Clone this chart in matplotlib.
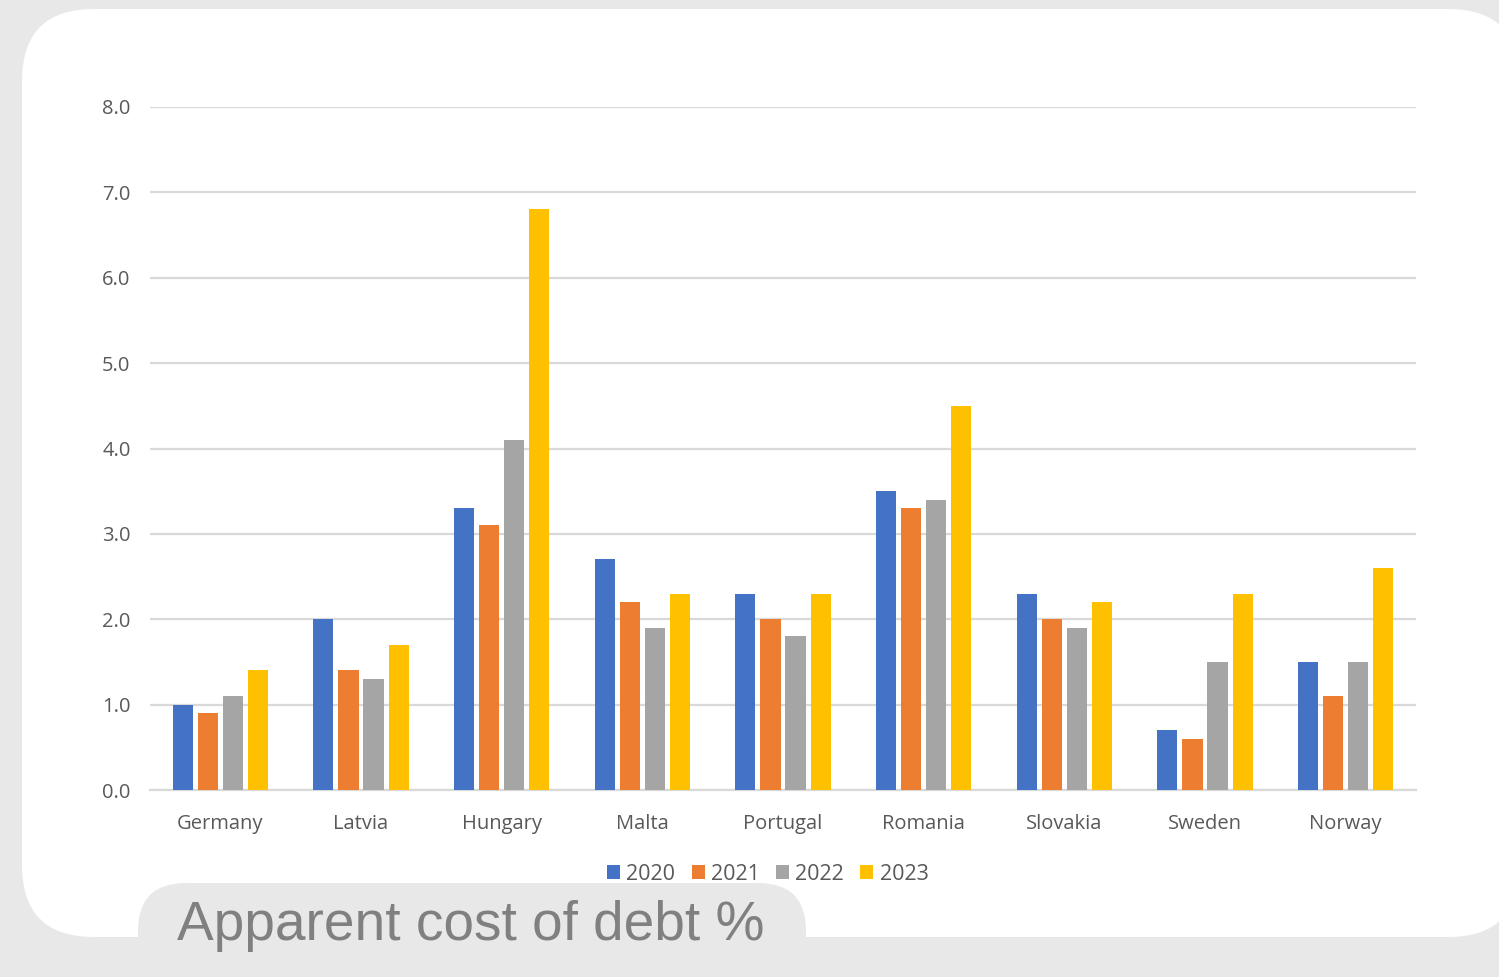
import numpy as np
import matplotlib
matplotlib.use('Agg')
import matplotlib.pyplot as plt
from matplotlib.patches import FancyBboxPatch

countries = ["Germany", "Latvia", "Hungary", "Malta", "Portugal",
             "Romania", "Slovakia", "Sweden", "Norway"]
years = ["2020", "2021", "2022", "2023"]
v2020 = [1.0, 2.0, 3.3, 2.7, 2.3, 3.5, 2.3, 0.7, 1.5]
v2021 = [0.9, 1.4, 3.1, 2.2, 2.0, 3.3, 2.0, 0.6, 1.1]
v2022 = [1.1, 1.3, 4.1, 1.9, 1.8, 3.4, 1.9, 1.5, 1.5]
v2023 = [1.4, 1.7, 6.8, 2.3, 2.3, 4.5, 2.2, 2.3, 2.6]
colors = ["#4472C4", "#ED7D31", "#A5A5A5", "#FFC000"]
title = "Apparent cost of debt %"

W, H = 1499, 977
fig = plt.figure(figsize=(W / 100, H / 100), dpi=100)
fig.patch.set_facecolor("#e8e8e8")

# background layer in pixel coordinates
bg = fig.add_axes([0, 0, 1, 1])
bg.set_xlim(0, W)
bg.set_ylim(H, 0)
bg.axis("off")
card = FancyBboxPatch((22 + 72, 9 + 72), 1520 - 22 - 144, 937 - 9 - 144,
                      boxstyle="round,pad=72", facecolor="white",
                      edgecolor="none")
bg.add_patch(card)
tab = FancyBboxPatch((138 + 48, 883 + 48), 806 - 138 - 96, 200,
                     boxstyle="round,pad=48", facecolor="#e8e8e8",
                     edgecolor="none")
bg.add_patch(tab)
bg.text(177, 940, title, fontsize=39.6, color="#808080",
        family="Liberation Sans", ha="left", va="baseline")

# chart axes: x 150..1416, y 107..790 in pixels
ax = fig.add_axes([150 / W, 1 - 790 / H, (1416 - 150) / W, (790 - 107) / H])
ax.set_facecolor("none")
x = np.arange(len(countries))
pitch = 0.178
width = 0.143
for i, (vals, yr) in enumerate(zip([v2020, v2021, v2022, v2023], years)):
    ax.bar(x + (i - 1.5) * pitch, vals, width, color=colors[i], label=yr,
           zorder=3)

ax.set_xlim(-0.5, len(countries) - 0.5)
ax.set_ylim(0, 8)
ax.set_yticks(np.arange(0, 9, 1))
ax.set_yticklabels([f"{t:.1f}" for t in range(9)])
ax.set_xticks(x)
ax.set_xticklabels(countries)
ax.yaxis.grid(True, color="#d9d9d9", linewidth=1.6, zorder=0)
for s in ["top", "right", "left"]:
    ax.spines[s].set_visible(False)
ax.spines["bottom"].set_color("#d9d9d9")
ax.spines["bottom"].set_linewidth(1.6)
ax.tick_params(length=0, labelsize=14.5, colors="#595959")
ax.tick_params(axis="y", pad=14)
ax.tick_params(axis="x", pad=17)
for lab in ax.get_xticklabels() + ax.get_yticklabels():
    lab.set_family("Open Sans")

leg = ax.legend(loc="center", bbox_to_anchor=(0.488, -0.123), ncol=4,
                frameon=False, handlelength=0.6,
                handleheight=0.6, handletextpad=0.3, columnspacing=0.75,
                prop={"family": "Open Sans", "size": 15.5})
for t in leg.get_texts():
    t.set_color("#595959")

plt.savefig("out.png", dpi=100, facecolor=fig.get_facecolor())
plt.close()
